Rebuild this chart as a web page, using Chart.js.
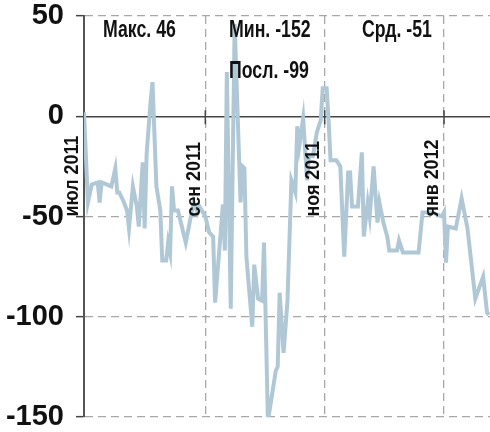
<!DOCTYPE html>
<html>
<head>
<meta charset="utf-8">
<script src="https://cdn.jsdelivr.net/npm/chart.js@4"></script>
<style>
  html, body { margin: 0; padding: 0; background: #fff; }
  #wrap { width: 490px; height: 432px; }
</style>
</head>
<body>
<div id="wrap"><canvas id="spreadChart"></canvas></div>
<script>
// days counted from 1 Jul 2011
const days = [0, 2, 4, 7, 8, 9, 14, 16, 17, 18, 20, 22, 23, 25, 27, 28, 30, 31, 32, 34,
    35, 37, 39, 40, 42, 43, 44, 45, 46, 48, 52, 56, 58, 59, 62, 64, 66, 67, 71, 72,
    73, 75, 77, 80, 81, 82, 83, 86, 87, 89, 91, 92, 94, 98, 99, 100, 102, 104, 106, 108,
    109, 110, 112, 114, 115, 117, 119, 121, 122, 124, 125, 126, 129, 131, 133, 135, 136, 137, 140, 142,
    143, 145, 146, 148, 150, 151, 153, 155, 156, 157, 160, 161, 163, 171, 173, 178, 183, 184, 185, 186,
    190, 193, 196, 200, 204, 206, 207];
const values = [2, -43, -34, -33, -43, -33, -35, -26, -38, -38, -42, -47, -56, -35, -45, -55, -23, -56, -19, 7,
    17, -35, -47, -72, -72, -63, -68, -35, -47, -47, -63, -43, -48, -45, -50, -58, -60, -93, -44, -67,
    22, -96, 46, -43, -25, -26, -70, -105, -74, -91, -92, -63, -152, -127, -125, -88, -118, -92, -32, -38,
    -5, -15, -1, -32, -20, -20, -8, -2, 14, 14, -2, -22, -22, -25, -70, -28, -28, -45, -45, -18,
    -60, -43, -50, -25, -53, -43, -53, -60, -67, -67, -67, -62, -68, -68, -48, -48, -50, -48, -73, -55,
    -56, -41, -56, -91, -80, -98, -99];

const monthDays = [0, 62, 123, 184];
const monthLabels = ['июл 2011', 'сен 2011', 'ноя 2011', 'янв 2012'];
const yTicks = [50, 0, -50, -100, -150];
const statLabels = ['Макс. 46', 'Мин. -152', 'Срд. -51', 'Посл. -99'];

const textFont = '"Liberation Sans", sans-serif';

// draws month labels, zero-line ticks and the stat notes
const overlay = {
    id: 'overlay',
    afterDatasetsDraw(chart) {
        const ctx = chart.ctx;
        const xs = chart.scales.x;
        const ys = chart.scales.y;
        const zeroY = ys.getPixelForValue(0);
        ctx.save();
        ctx.strokeStyle = '#444';
        ctx.lineWidth = 1.5;
        monthDays.forEach((d, i) => {
            const px = xs.getPixelForValue(d);
            if (i > 0) {
                ctx.beginPath();
                ctx.moveTo(px, zeroY - 6);
                ctx.lineTo(px, zeroY + 8);
                ctx.stroke();
            }
            ctx.save();
            ctx.translate(px - 1, ys.getPixelForValue(-50));
            ctx.rotate(-Math.PI / 2);
            ctx.scale(0.85, 1);
            ctx.font = 'bold 21px ' + textFont;
            ctx.fillStyle = '#111';
            ctx.textAlign = 'left';
            ctx.textBaseline = 'bottom';
            ctx.fillText(monthLabels[i], 0, 0);
            ctx.restore();
        });

        const notes = [[103, 37], [229, 37], [362, 37], [229, 78]];
        ctx.font = 'bold 23px ' + textFont;
        ctx.fillStyle = '#111';
        ctx.textBaseline = 'alphabetic';
        notes.forEach((p, i) => {
            ctx.save();
            ctx.translate(p[0], p[1]);
            ctx.scale(0.77, 1);
            ctx.fillText(statLabels[i], 0, 0);
            ctx.restore();
        });
        ctx.restore();
    }
};

const ctx = document.getElementById('spreadChart').getContext('2d');

new Chart(ctx, {
    type: 'line',
    data: {
        datasets: [{
            data: days.map((d, i) => ({ x: d, y: values[i] })),
            borderColor: '#b0c8d6',
            borderWidth: 4,
            pointRadius: 0,
            tension: 0,
            fill: false
        }]
    },
    options: {
        responsive: true,
        maintainAspectRatio: false,
        animation: false,
        layout: { padding: { top: 16, bottom: 15, left: 0, right: 0 } },
        plugins: {
            legend: { display: false },
            tooltip: { enabled: false }
        },
        scales: {
            x: {
                type: 'linear',
                position: { y: 0 },
                min: 0,
                max: 207.5,
                afterBuildTicks: scale => {
                    scale.ticks = monthDays.map(v => ({ value: v }));
                },
                afterFit: scale => {
                    scale.height = 0;
                    scale.paddingLeft = 0;
                    scale.paddingRight = 0;
                },
                ticks: { display: false },
                grid: {
                    color: c => c.index === 0 ? 'rgba(0,0,0,0)' : '#a8a8a8',
                    lineWidth: 1.3,
                    drawTicks: false
                },
                border: { display: true, color: '#444', width: 1.5, dash: [8, 5] }
            },
            y: {
                min: -150,
                max: 50,
                afterBuildTicks: scale => {
                    scale.ticks = yTicks.map(v => ({ value: v }));
                },
                afterFit: scale => {
                    scale.width = 84;
                    scale.paddingTop = 0;
                    scale.paddingBottom = 0;
                },
                ticks: {
                    color: '#111',
                    padding: 12,
                    font: { family: textFont, size: 29, weight: 'bold' }
                },
                grid: {
                    color: c => c.tick && c.tick.value === 0 ? 'rgba(0,0,0,0)' : '#a8a8a8',
                    lineWidth: 1.3,
                    tickLength: 8,
                    tickColor: '#444',
                    tickWidth: 1.5
                },
                border: { display: true, color: '#555', width: 2, dash: [8, 5] }
            }
        }
    },
    plugins: [overlay]
});
</script>
</body>
</html>
